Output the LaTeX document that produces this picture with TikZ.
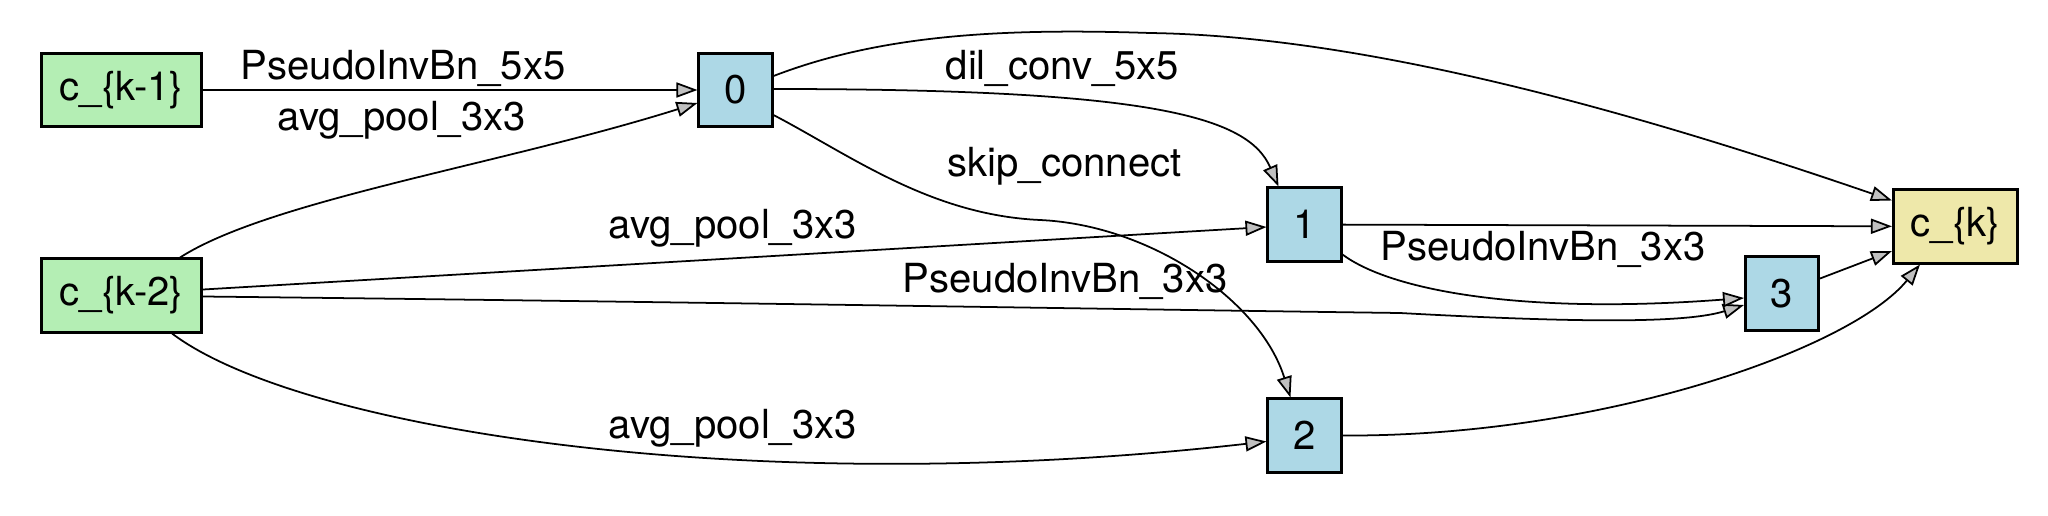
\documentclass[tikz,border=0pt]{standalone}
\usepackage{fontspec}
\setmainfont{TeX Gyre Heros}
\usetikzlibrary{arrows.meta,calc}
\definecolor{ingreen}{HTML}{B4EEB4}
\definecolor{midblue}{HTML}{ADD8E6}
\definecolor{outyellow}{HTML}{EEE8AA}
\definecolor{tipgray}{HTML}{C0C0C0}

\begin{document}
\begin{tikzpicture}[x=0.01cm,y=-0.01cm,font=\fontsize{11.4}{13}\selectfont,
        >={Triangle[length=0.21cm,width=0.15cm,fill=tipgray]},
        box/.style={draw,line width=0.85pt,minimum height=0.73cm,inner sep=0pt},
        inbox/.style={box,fill=ingreen,minimum width=1.6cm},
        midbox/.style={box,fill=midblue,minimum width=0.73cm},
        outbox/.style={box,fill=outyellow,minimum width=1.24cm},
        link/.style={->,line width=0.5pt},
        lbl/.style={anchor=base west,inner sep=0pt}]
        \useasboundingbox (0,0) rectangle (2048,515);
        \node[inbox] (c_1) at (121.5,90) {c\_\{k-1\}};
        \node[inbox] (c_2) at (121.5,295.5) {c\_\{k-2\}};
        \node[midbox] (n_0) at (735.5,90) {0};
        \node[midbox] (n_1) at (1304.5,224.5) {1};
        \node[midbox] (n_2) at (1304.5,435.5) {2};
        \node[midbox] (n_3) at (1782,293.5) {3};
        \node[outbox] (c_k) at (1955.5,226.5) {c\_\{k\}};
        \node[lbl] (l_01) at (240,79) {PseudoInvBn\_5x5};
        \node[lbl] (l_02) at (277,130) {avg\_pool\_3x3};
        \node[lbl] (l_12) at (608,238) {avg\_pool\_3x3};
        \node[lbl] (l_32) at (902,292) {PseudoInvBn\_3x3};
        \node[lbl] (l_22) at (608,438) {avg\_pool\_3x3};
        \node[lbl] (l_10) at (945,80) {dil\_conv\_5x5};
        \node[lbl] (l_20) at (947,176) {skip\_connect};
        \node[lbl] (l_31) at (1380,260) {PseudoInvBn\_3x3};
        \draw[link] (c_1) -- (n_0);
        \draw[link] ($(c_2.north east)+(-23,0)$) .. controls (270,200) and (500,165) .. ($(n_0.west)+(0,13)$);
        \draw[link] ($(c_2.east)+(0,-6)$) -- ($(n_1.west)+(0,2.5)$);
        \draw[link] ($(c_2.east)+(0,1)$) .. controls (700,302) and (1100,309) .. (1400,313)
            .. controls (1600,324) and (1690,322) .. ($(n_3.west)+(0,11.5)$);
        \draw[link] ($(c_2.south east)+(-31,0)$) .. controls (300,430) and (750,500) .. ($(n_2.west)+(0,6)$);
        \draw[link] ($(n_0.east)+(0,-14)$) .. controls (880,35) and (1000,28) .. (1150,33)
            .. controls (1350,36) and (1600,100) .. ($(c_k.north west)+(0,12)$);
        \draw[link] ($(n_0.east)+(0,-1)$) .. controls (1150,89) and (1248,116) .. ($(n_1.north west)+(12,0)$);
        \draw[link] ($(n_0.east)+(0,25)$) .. controls (850,155) and (930,215) .. (1040,220)
            .. controls (1150,225) and (1260,300) .. ($(n_2.north west)+(24,0)$);
        \draw[link] (n_1) -- (c_k);
        \draw[link] ($(n_1.east)+(0,30)$) .. controls (1390,290) and (1520,315) .. ($(n_3.west)+(0,4.5)$);
        \draw[link] ($(n_3.east)+(0,-15)$) -- ($(c_k.west)+(0,24.5)$);
        \draw[link] (n_2.east) .. controls (1600,437) and (1850,350) .. ($(c_k.south west)+(28,0)$);
\end{tikzpicture}
\end{document}
